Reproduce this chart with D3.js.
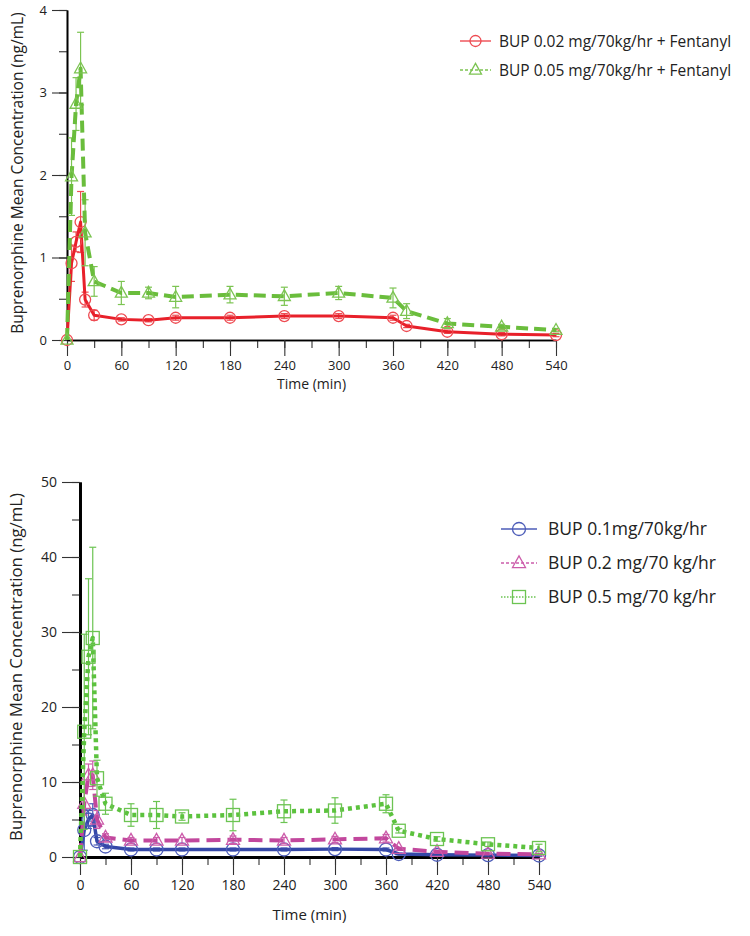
<!DOCTYPE html>
<html><head><meta charset="utf-8">
<script src="https://cdn.jsdelivr.net/npm/d3@7"></script>
<style>
body{margin:0;background:#fff;}
text{font-family:"Open Sans","Noto Sans",sans-serif;fill:#222;}
</style></head>
<body><svg id="c" width="750" height="936"></svg>
<script>
// ---- data ----
const timesTop = [0,5,10,15,20,30,60,90,120,180,240,300,360,375,420,480,540];
const bup002 = [0,0.93,1.19,1.43,0.49,0.30,0.25,0.24,0.27,0.27,0.29,0.29,0.27,0.17,0.10,0.07,0.06];
const bup002Err = [0,0.22,0.12,0.37,0.09,0.06,0.02,0.02,0.03,0.03,0.03,0.03,0.03,0.02,0.02,0.02,0.02];
const bup005 = [0,1.98,2.86,3.29,1.30,0.71,0.57,0.57,0.52,0.55,0.53,0.57,0.51,0.35,0.20,0.16,0.12];
const bup005Err = [0,0.47,0.32,0.44,0.40,0.18,0.14,0.07,0.13,0.10,0.11,0.08,0.12,0.09,0.06,0.03,0.02];

const timesBot = [0,5,10,15,20,30,60,90,120,180,240,300,360,375,420,480,540];
const bup01 = [0,3.6,5.0,5.6,2.1,1.4,1.0,1.0,1.0,1.0,1.0,1.05,1.0,0.4,0.3,0.25,0.2];
const bup01Err = [0,2.7,1.2,1.5,0.5,0.3,0.2,0.2,0.2,0.2,0.2,0.2,0.2,0.1,0.1,0.1,0.1];
const bup02 = [0,7.1,10.9,10.9,5.0,2.6,2.2,2.2,2.2,2.3,2.2,2.35,2.5,1.1,0.7,0.45,0.35];
const bup02Err = [0,1.5,1.5,1.9,1.2,0.5,0.4,0.4,0.4,0.5,0.4,0.4,0.5,0.2,0.2,0.1,0.1];
const bup05 = [0,16.7,26.7,29.2,10.5,7.1,5.6,5.6,5.4,5.6,6.1,6.2,7.1,3.5,2.4,1.7,1.2];
const bup05Err = [0,13.0,10.4,12.1,2.4,1.4,1.5,1.8,0.5,2.1,1.5,1.7,1.2,0.3,0.3,0.3,0.5];

const xTicks = [0,60,120,180,240,300,360,420,480,540];
const yTicksTop = [0,1,2,3,4];
const yTicksBot = [0,10,20,30,40,50];
const legendTop = ["BUP 0.02 mg/70kg/hr + Fentanyl","BUP 0.05 mg/70kg/hr + Fentanyl"];
const legendBot = ["BUP 0.1mg/70kg/hr","BUP 0.2 mg/70 kg/hr","BUP 0.5 mg/70 kg/hr"];

const svg = d3.select("#c");

function marker(g, type, x, y, r, color){
  if(type==="circle") g.append("circle").attr("cx",x).attr("cy",y).attr("r",r).attr("fill","none").attr("stroke",color).attr("stroke-width",1.3);
  else if(type==="tri") g.append("path").attr("d",`M${x},${y-r*1.1}L${x+r},${y+r*0.7}L${x-r},${y+r*0.7}Z`).attr("fill","none").attr("stroke",color).attr("stroke-width",1.3);
  else if(type==="sq") g.append("rect").attr("x",x-r).attr("y",y-r).attr("width",2*r).attr("height",2*r).attr("fill","none").attr("stroke",color).attr("stroke-width",1.3);
}

function panel(cfg){
  const x = d3.scaleLinear().domain([0,540]).range([cfg.x0,cfg.x1]);
  const y = d3.scaleLinear().domain([0,cfg.ymax]).range([cfg.y0,cfg.y1]);
  const g = svg.append("g");
  // axes
  const ax = g.append("g").attr("transform",`translate(0,${cfg.y0})`);
  ax.call(d3.axisBottom(x).tickValues(d3.range(0,541,30)).tickSizeInner(8).tickSizeOuter(0).tickFormat(""));
  ax.append("g").call(d3.axisBottom(x).tickValues(xTicks).tickSizeInner(cfg.xmaj).tickSizeOuter(0).tickPadding(cfg.xpad).tickFormat(d3.format("d")));
  ax.selectAll("text").attr("font-size",cfg.tfs).attr("fill","#222");
  ax.selectAll("path.domain").attr("stroke","#000").attr("stroke-width",cfg.axw);
  ax.selectAll("line").attr("stroke","#333").attr("stroke-width",1.1);
  const ay = g.append("g").attr("transform",`translate(${cfg.x0},0)`);
  ay.call(d3.axisLeft(y).tickValues(d3.range(0,cfg.ymax+0.0001,cfg.minor)).tickSizeInner(8).tickSizeOuter(0).tickFormat(""));
  ay.append("g").call(d3.axisLeft(y).tickValues(cfg.yTicks).tickSizeInner(cfg.ymaj).tickSizeOuter(0).tickPadding(cfg.ypad).tickFormat(d3.format("d")));
  ay.selectAll("text").attr("font-size",cfg.tfs).attr("fill","#222");
  ay.selectAll("path.domain").attr("stroke","#000").attr("stroke-width",cfg.axw);
  ay.selectAll("line").attr("stroke","#333").attr("stroke-width",1.1);
  g.append("text").attr("x",(cfg.x0+cfg.x1)/2).attr("y",cfg.xty).attr("text-anchor","middle").attr("font-size",cfg.xtfs).text("Time (min)");
  g.append("text").attr("transform",`translate(${cfg.ytx},${cfg.ytc}) rotate(-90)`).attr("text-anchor","middle").attr("font-size",cfg.ytfs).text("Buprenorphine Mean Concentration (ng/mL)");
  // series
  cfg.series.forEach(s=>{
    const sg = g.append("g");
    cfg.times.forEach((t,i)=>{
      const e = s.err[i]; if(!e) return;
      const xi = x(t), yt = y(s.vals[i]+e), yb = y(Math.max(0,s.vals[i]-e));
      sg.append("line").attr("x1",xi).attr("x2",xi).attr("y1",yt).attr("y2",yb).attr("stroke",s.ecolor).attr("stroke-width",1.2);
      [yt,yb].forEach(yy=>sg.append("line").attr("x1",xi-3.5).attr("x2",xi+3.5).attr("y1",yy).attr("y2",yy).attr("stroke",s.ecolor).attr("stroke-width",1.2));
    });
    const line = d3.line().x((d,i)=>x(cfg.times[i])).y(d=>y(d));
    sg.append("path").datum(s.vals).attr("d",line).attr("fill","none").attr("stroke",s.color)
      .attr("stroke-width",s.w).attr("stroke-dasharray",s.dash||null).attr("stroke-linecap",s.cap||"butt").attr("stroke-linejoin","round");
    cfg.times.forEach((t,i)=>marker(sg,s.marker,x(t),y(s.vals[i]),s.r,s.ecolor));
  });
  // legend
  cfg.series.forEach((s,i)=>{
    const ly = cfg.ly + i*cfg.lgap;
    const lg = g.append("g");
    lg.append("line").attr("x1",cfg.lx).attr("x2",cfg.lx+cfg.lw).attr("y1",ly).attr("y2",ly).attr("stroke",s.ecolor).attr("stroke-width",1.4).attr("stroke-dasharray",s.ldash||null);
    marker(lg,s.marker,cfg.lx+cfg.lw/2,ly,s.r,s.ecolor);
    lg.append("text").attr("x",cfg.lx+cfg.lw+cfg.ltpad).attr("y",ly).attr("dy","0.36em").attr("font-size",cfg.lfs).text(cfg.labels[i]);
  });
}

panel({x0:67,x1:556,y0:340,y1:10,ymax:4,minor:0.5,yTicks:yTicksTop,axw:1.6,
  xmaj:16,xpad:5,ymaj:15,ypad:5,tfs:13,xty:389,xtfs:14,ytx:23,ytc:173,ytfs:15.5,times:timesTop,
  labels:legendTop,lx:460,lw:31,ly:41,lgap:29,ltpad:8,lfs:15.5,
  series:[
    {vals:bup002,err:bup002Err,color:"#e8202a",ecolor:"#ee4b52",w:3,marker:"circle",r:5.5},
    {vals:bup005,err:bup005Err,color:"#6abd3c",ecolor:"#7cc452",w:4,dash:"12,6",ldash:"3,2",marker:"tri",r:6}
  ]});

panel({x0:80,x1:539,y0:857,y1:482,ymax:50,minor:5,yTicks:yTicksBot,axw:2.8,
  xmaj:18,xpad:5,ymaj:18,ypad:5,tfs:14,xty:920,xtfs:15,ytx:22,ytc:667,ytfs:16.8,times:timesBot,
  labels:legendBot,lx:501,lw:36,ly:529,lgap:34,ltpad:11,lfs:17.5,
  series:[
    {vals:bup01,err:bup01Err,color:"#3548a8",ecolor:"#4c5cb8",w:3.5,marker:"circle",r:6.5},
    {vals:bup02,err:bup02Err,color:"#c2479d",ecolor:"#cc5caa",w:4,dash:"14,7",ldash:"3,2",marker:"tri",r:6.5},
    {vals:bup05,err:bup05Err,color:"#5cc23e",ecolor:"#6cc452",w:4.5,dash:"4,4",ldash:"1.5,1.5",marker:"sq",r:6.5}
  ]});
</script></body></html>
